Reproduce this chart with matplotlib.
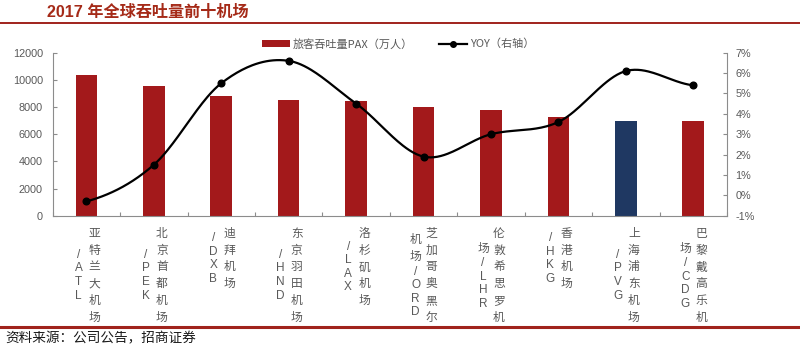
import numpy as np
import matplotlib
matplotlib.use("Agg")
import matplotlib.pyplot as plt
from matplotlib.lines import Line2D
from matplotlib.patches import Patch

# ---------------- data ----------------
labels = ["亚特兰大机场/ATL", "北京首都机场/PEK", "迪拜机场/DXB", "东京羽田机场/HND",
          "洛杉矶机场/LAX", "芝加哥奥黑尔机场/ORD", "伦敦希思罗机场/LHR", "香港机场/HKG",
          "上海浦东机场/PVG", "巴黎戴高乐机场/CDG"]
pax = [10390, 9580, 8820, 8540, 8460, 7980, 7800, 7270, 7000, 6950]
yoy = [-0.3, 1.5, 5.5, 6.6, 4.5, 1.9, 3.0, 3.6, 6.1, 5.4]
highlight = "上海浦东机场/PVG"
left_ticks = [0, 2000, 4000, 6000, 8000, 10000, 12000]
right_ticks = [-1, 0, 1, 2, 3, 4, 5, 6, 7]
title = "2017 年全球吞吐量前十机场"
source = "资料来源：公司公告，招商证券"
legend_labels = ["旅客吞吐量PAX（万人）", "YOY（右轴）"]

RED = "#A3191B"
NAVY = "#1F3862"
DARKRED = "#A0231C"
GRAY_TXT = "#595959"
SPINE = "#8C8C8C"
CJK = "Noto Sans CJK SC"
LAT = "Liberation Sans"

W, H = 800, 347
fig = plt.figure(figsize=(W / 100, H / 100), dpi=100)
x0, x1, yb, yt = 52.7, 727.0, 215.7, 52.7
ax = fig.add_axes([x0 / W, 1 - yb / H, (x1 - x0) / W, (yb - yt) / H])

x = np.arange(len(labels))
colors = [NAVY if l == highlight else RED for l in labels]
ax.bar(x, pax, width=0.32, color=colors, zorder=2)
ax.set_xlim(-0.5, len(labels) - 0.5)
ax.set_ylim(left_ticks[0], left_ticks[-1])
ax.set_yticks(left_ticks)
ax.set_yticklabels([str(v) for v in left_ticks], family=LAT)
ax.set_xticks([])
ax.set_xticks(np.arange(-0.5, len(labels), 1.0), minor=True)
ax.tick_params(axis="x", which="minor", direction="in", length=3, color=SPINE, width=0.8)
ax.tick_params(axis="y", direction="in", length=3, color=SPINE, width=0.8,
               labelsize=7.8, labelcolor=GRAY_TXT, pad=7)
for s in ["top", "right"]:
    ax.spines[s].set_visible(False)
for s in ["left", "bottom"]:
    ax.spines[s].set_color(SPINE)
    ax.spines[s].set_linewidth(0.8)

# right axis with smoothed line
ax2 = ax.twinx()
ax2.set_ylim(right_ticks[0], right_ticks[-1])
ax2.set_yticks(right_ticks)
ax2.set_yticklabels([f"{v}%" for v in right_ticks], family=LAT)
ax2.tick_params(axis="y", direction="in", length=3, color=SPINE, width=0.8,
                labelsize=7.8, labelcolor=GRAY_TXT, pad=6)
for s in ["top", "left", "bottom"]:
    ax2.spines[s].set_visible(False)
ax2.spines["right"].set_color(SPINE)
ax2.spines["right"].set_linewidth(0.8)

# Catmull-Rom style smoothing (like Excel smoothed line)
yy = np.array(yoy, dtype=float)
n = len(yy)
m = np.zeros(n)
for i in range(n):
    lo = max(i - 1, 0)
    hi = min(i + 1, n - 1)
    m[i] = (yy[hi] - yy[lo]) / 2.0
sx, sy = [], []
t = np.linspace(0, 1, 40)
for i in range(n - 1):
    h00 = 2 * t**3 - 3 * t**2 + 1
    h10 = t**3 - 2 * t**2 + t
    h01 = -2 * t**3 + 3 * t**2
    h11 = t**3 - t**2
    sx.extend(x[i] + t)
    sy.extend(h00 * yy[i] + h10 * m[i] + h01 * yy[i + 1] + h11 * m[i + 1])
ax2.plot(sx, sy, color="black", lw=1.6, zorder=3, solid_capstyle="round")
ax2.plot(x, yy, "o", color="black", markersize=4.8, zorder=4)

# vertical stacked x labels (two columns: first column on the right)
CJK_P, LAT_P = 16.7, 13.6
top_off = 9.5
for i, lab in enumerate(labels):
    name, code = lab.split("/")
    if len(name) <= 6:
        cols = [name, "/" + code]
    else:
        cols = [name[:6], name[6:] + "/" + code]
    def h(c):
        return CJK_P if ord(c) > 0x2E80 else LAT_P
    heights = [sum(h(c) for c in col) for col in cols]
    Hb = max(heights)
    for ci, col in enumerate(cols):
        dx = 8 if ci == 0 else -8
        ypos = top_off + (Hb - heights[ci]) / 2
        for c in col:
            hc = h(c)
            cy = ypos + hc / 2
            ypos += hc
            fam = CJK if ord(c) > 0x2E80 else LAT
            ax.annotate(c, xy=(i, 0), xycoords=("data", "axes fraction"),
                        xytext=(dx, -cy), textcoords="offset pixels",
                        ha="center", va="center", fontsize=8.5, color=GRAY_TXT,
                        family=fam, annotation_clip=False)

# legend
handles = [Patch(facecolor=RED, edgecolor="none"),
           Line2D([], [], color="black", lw=1.6, marker="o", markersize=4)]
leg = fig.legend(handles, legend_labels, loc="center left",
                 bbox_to_anchor=(262 / W, 1 - 44 / H), bbox_transform=fig.transFigure,
                 ncol=2, frameon=False, handlelength=2.5, handleheight=0.55,
                 handletextpad=0.3, columnspacing=2.3, borderpad=0, borderaxespad=0,
                 prop={"family": [CJK], "size": 8})
for txt in leg.get_texts():
    txt.set_color(GRAY_TXT)

# title, rules and source
fig.text(47 / W, 1 - 12.5 / H, title, fontsize=11.6, fontweight="bold", color="#A52A18",
         family=[LAT, CJK], ha="left", va="center")
fig.add_artist(Line2D([0, 1], [1 - 23.3 / H, 1 - 23.3 / H], transform=fig.transFigure,
                      color=DARKRED, lw=1.4))
fig.add_artist(Line2D([0, 1], [1 - 327.3 / H, 1 - 327.3 / H], transform=fig.transFigure,
                      color=DARKRED, lw=2.2))
fig.text(5 / W, 1 - 338 / H, source, fontsize=9.8, color="#1A1A1A", family=[CJK],
         ha="left", va="center")

fig.savefig("out.png", dpi=100)
